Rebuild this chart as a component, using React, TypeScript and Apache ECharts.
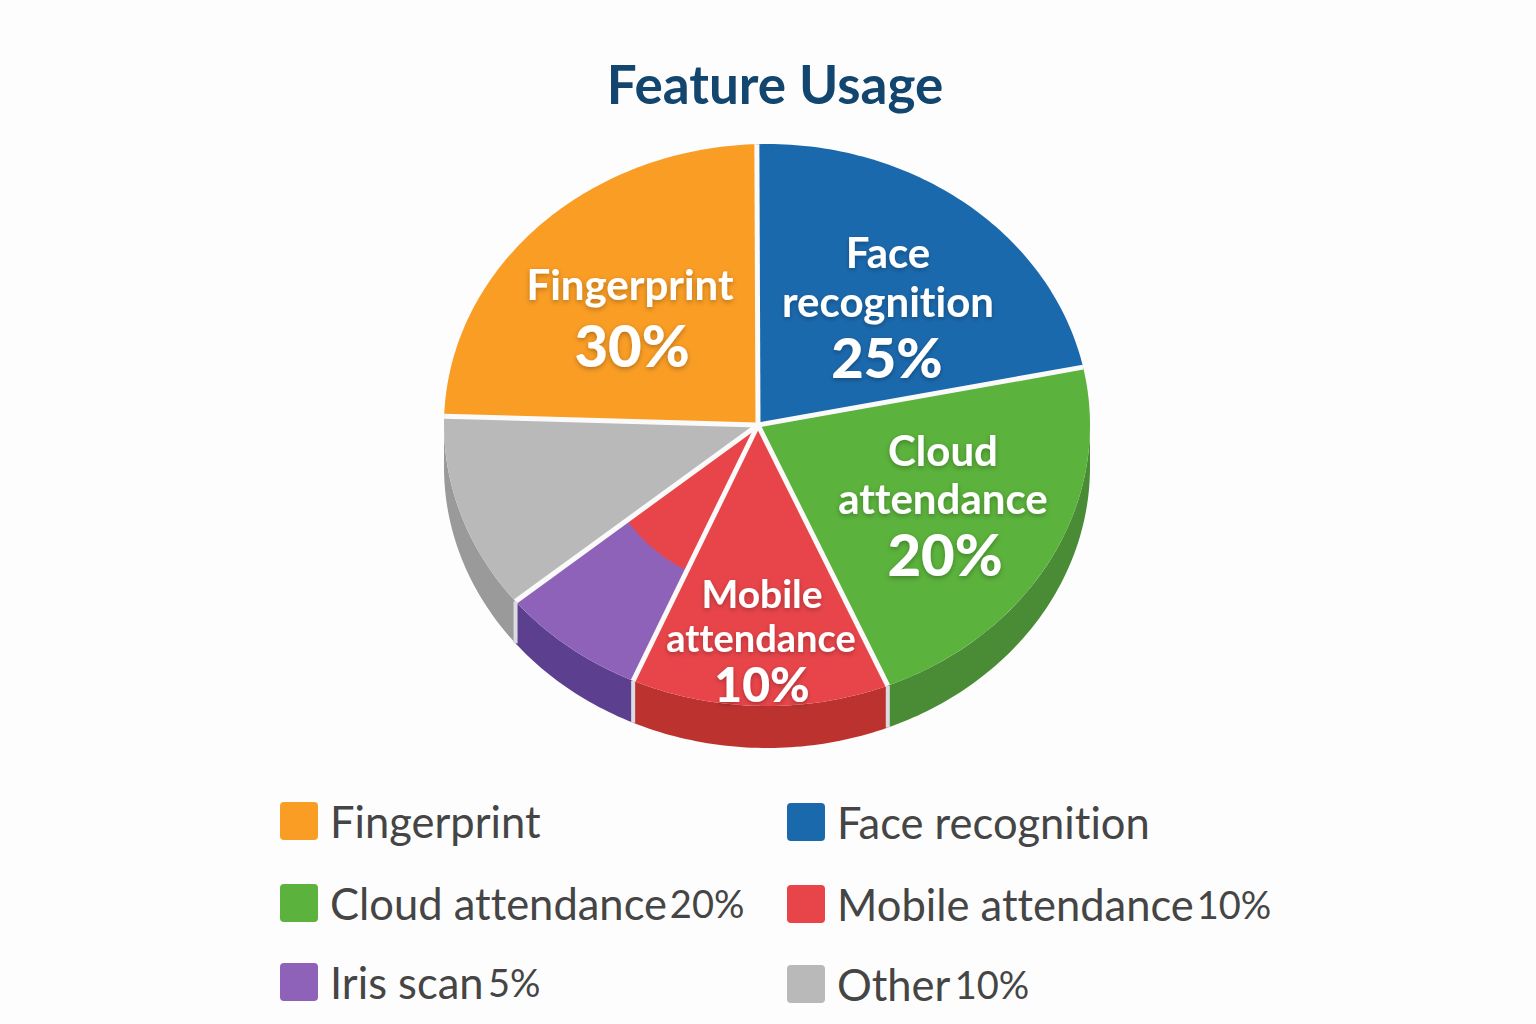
import React, { useEffect, useRef } from "react";
import * as echarts from "echarts";

const FONT = "Lato";
const TITLE = "Feature Usage";
const categories = ["Fingerprint", "Face recognition", "Cloud attendance", "Mobile attendance", "Iris scan", "Other"];
// The percentages printed in the reference.
const statedPercent = [30, 25, 20, 10, 5, 10];
// The reference's slices are not drawn to its printed percentages: these are the slice sizes.
const drawnShare = [22.2, 22.2, 12.9, 7.4, 11.3, 24];
const drawnOrder = [1, 2, 3, 4, 5, 0];
const legendSuffix = ["", "", "20%", "10%", "5%", "10%"];
const labelLines = [["Fingerprint"], ["Face", "recognition"], ["Cloud", "attendance"], ["Mobile", "attendance"], [], []];

const topColors = ["#f99d25", "#1b69ad", "#5bb23c", "#e8454a", "#8f62b9", "#b9b9b9"];
const wallColors = ["#c77d1d", "#14508a", "#4a8c36", "#bb322e", "#5c3f8e", "#9a9a9a"];

const G = { cx: 767, cy: 425, rx: 323, ry: 281, depth: 42, ax: 758, ay: 425, start: -1.8 };
const labelAnchor = [
  [[630, 284, 42, 700], [632, 344, 58, 900]],
  [[888, 252, 42, 700], [888, 301, 42, 700], [887, 356, 56, 900]],
  [[943, 450, 42, 700], [943, 498, 42, 700], [945, 553, 58, 900]],
  [[762, 593, 39, 700], [761, 637, 38, 700], [762, 683, 48, 900]],
];
const legendPos = [[280, 799], [787, 800], [280, 881], [787, 882], [280, 960], [787, 962]];
const legendIcon = "path://M4,0H34A4,4,0,0,1,38,4V34A4,4,0,0,1,34,38H4A4,4,0,0,1,0,34V4A4,4,0,0,1,4,0Z";

const rimPoint = (deg: number, drop = 0) => {
  const t = (deg * Math.PI) / 180;
  return [G.cx + G.rx * Math.sin(t), G.cy - G.ry * Math.cos(t) + drop];
};
const arc = (a: number, b: number, drop = 0) => {
  const pts: number[][] = [];
  const n = Math.max(2, Math.ceil(Math.abs(b - a)));
  for (let i = 0; i <= n; i++) pts.push(rimPoint(a + ((b - a) * i) / n, drop));
  return pts;
};

// Cumulative angles, in drawing order (clockwise from the top).
const total = drawnShare.reduce((s, v) => s + v, 0);
const bounds: Record<number, [number, number]> = {};
{
  let a = G.start;
  drawnOrder.forEach((cat, i) => {
    const sweep = (drawnShare[i] / total) * 360;
    bounds[cat] = [a, a + sweep];
    a += sweep;
  });
}

function sliceRenderer(cat: number) {
  return () => {
    const [a, b] = bounds[cat];
    const children: any[] = [];
    const wa = Math.max(a, 90);
    const wb = Math.min(b, 270);
    if (wb > wa) {
      children.push({
        type: "polygon",
        shape: { points: [...arc(wa, wb), ...arc(wa, wb, G.depth).reverse()] },
        style: { fill: wallColors[cat] },
      });
    }
    children.push({
      type: "polygon",
      shape: { points: [[G.ax, G.ay], ...arc(a, b)] },
      style: { fill: topColors[cat] },
    });
    if (categories[cat] === "Iris scan") {
      // Red inner wedge that the reference paints inside the iris slice.
      const r = 162;
      const pts: number[][] = [[G.ax, G.ay]];
      const [p, q] = [rimPoint(a), rimPoint(b)];
      const a0 = Math.atan2(p[1] - G.ay, p[0] - G.ax);
      const a1 = Math.atan2(q[1] - G.ay, q[0] - G.ax);
      for (let i = 0; i <= 20; i++) {
        const t = a0 + ((a1 - a0) * i) / 20;
        pts.push([G.ax + r * Math.cos(t), G.ay + r * Math.sin(t)]);
      }
      children.push({ type: "polygon", shape: { points: pts }, style: { fill: topColors[3] } });
    }
    return { type: "group", children };
  };
}

function dividerRenderer(_: any, api: any) {
  const deg = api.value(0);
  const p = rimPoint(deg);
  const els: any[] = [
    { type: "line", shape: { x1: G.ax, y1: G.ay, x2: p[0], y2: p[1] }, style: { stroke: "#fafafa", lineWidth: 5 } },
  ];
  if (deg > 90 && deg < 270) {
    const q = rimPoint(deg, G.depth);
    els.push({ type: "line", shape: { x1: p[0], y1: p[1], x2: q[0], y2: q[1] }, style: { stroke: "#dcdce0", lineWidth: 4 } });
  }
  return { type: "group", children: els };
}

function labelRenderer(_: any, api: any) {
  const cat = api.value(0);
  const anchors = labelAnchor[cat];
  const lines = [...labelLines[cat], `${statedPercent[cat]}%`];
  return {
    type: "group",
    children: lines.map((text, i) => ({
      type: "text",
      x: anchors[i][0],
      y: anchors[i][1],
      style: {
        text,
        fill: "#ffffff",
        font: `${anchors[i][3]} ${anchors[i][2]}px ${FONT}`,
        textAlign: "center",
        textVerticalAlign: "middle",
        textShadowBlur: 5,
        textShadowColor: "rgba(0,0,0,0.28)",
        textShadowOffsetY: 2,
      },
    })),
  };
}

const boundaryAngles = drawnOrder.map((cat) => bounds[cat][0]);

export default function App() {
  const ref = useRef<HTMLDivElement>(null);
  useEffect(() => {
    document.body.style.margin = "0";
    document.body.style.background = "#fdfdfd";
    const chart = echarts.init(ref.current!, undefined, { renderer: "svg" });
    chart.setOption({
      animation: false,
      backgroundColor: "#fdfdfd",
      color: topColors,
      title: {
        text: TITLE,
        left: 770,
        top: 52,
        textAlign: "center",
        textStyle: { fontFamily: FONT, fontWeight: 700, fontSize: 53, color: "#12466f" },
      },
      legend: categories.map((name, i) => ({
        data: [name],
        left: legendPos[i][0],
        top: legendPos[i][1],
        padding: 0,
        itemWidth: 38,
        itemHeight: 38,
        icon: legendIcon,
        selectedMode: false,
        formatter: () =>
          legendSuffix[i] ? `{n|${name}} {p|${legendSuffix[i]}}` : `{n|${name}}`,
        textStyle: {
          rich: {
            n: { fontFamily: FONT, fontSize: 43.5, color: "#454545", padding: [0, 0, 0, 7] },
            p: { fontFamily: FONT, fontSize: 38, color: "#454545", padding: [0, 0, 0, 1] },
          },
        },
      })),
      series: [
        ...drawnOrder.map((cat, i) => ({
          type: "custom",
          name: categories[cat],
          coordinateSystem: "none",
          itemStyle: { color: topColors[cat] },
          z: 2,
          silent: true,
          data: [drawnShare[i]],
          renderItem: sliceRenderer(cat),
        })),
        {
          type: "custom",
          name: "dividers",
          coordinateSystem: "none",
          z: 3,
          silent: true,
          data: boundaryAngles.map((v) => [v]),
          renderItem: dividerRenderer,
        },
        {
          type: "custom",
          name: "labels",
          coordinateSystem: "none",
          z: 4,
          silent: true,
          data: labelAnchor.map((_, i) => [i]),
          renderItem: labelRenderer,
        },
      ],
    });
    return () => chart.dispose();
  }, []);
  return (
    <>
      <style>{"svg text{font-variant-ligatures:none !important}"}</style>
      <div ref={ref} style={{ width: 1536, height: 1024 }} />
    </>
  );
}
